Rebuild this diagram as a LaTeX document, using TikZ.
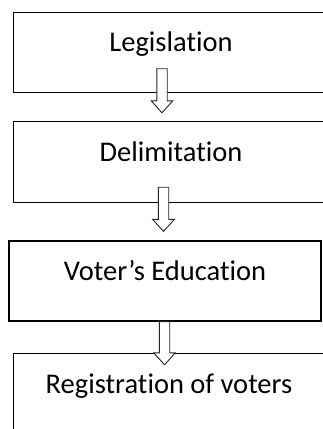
\documentclass[tikz,border=0pt]{standalone}
\usepackage{fontspec}
\setmainfont{Carlito}[Ligatures=NoCommon]
\usepackage{tikz}
\usetikzlibrary{calc, positioning}
\tikzset{
    stageBox/.style={rectangle, inner sep=0pt, minimum width=#1, text height=39pt, text depth=41pt, font=\fontsize{28.5}{34}\selectfont},
    stageBox/.default=314pt,
    stageLine/.style={line width=1.2pt},
    blockArrow/.style={draw=black!85, line width=0.9pt, fill=white, line join=miter},
}
\newcommand{\drawOpenBox}[1]{
    % box whose right side runs past the page
    \draw[stageLine] ($(#1.north east)+(40,0)$) -| (#1.south west) -- ++(360,0);
}
\newcommand{\drawBlockArrow}[2]{
    % #1 top of shaft, #2 tip
    \coordinate (bs) at (#1);
    \coordinate (bt) at (#2);
    \draw[blockArrow] ($(bs)+(-5.2,0)$) -- ($(bt)+(-5.2,-12)$) -- ($(bt)+(-10.8,-12)$) -- (bt)
        -- ($(bt)+(10.8,-12)$) -- ($(bt)+(5.2,-12)$) -- ($(bs)+(5.2,0)$) -- cycle;
}

\begin{document}
\begin{tikzpicture}[x=1pt, y=-1pt]

        \useasboundingbox (0,0) rectangle (323,429);
        \clip (0,0) rectangle (323,429);
        \fill[white] (0,0) rectangle (323,429);

        \node[stageBox] (Leg) at (171, 52.5) {Legislation};
        \node[stageBox] (Del) at (171, 162) {Delimitation};
        \node[stageBox=312pt, draw, stageLine] (Vot) at (165, 281) {Voter’s Education};
        \node[stageBox=310pt] (Reg) at (169, 394) {Registration of voters};

        \drawOpenBox{Leg}
        \drawOpenBox{Del}
        \drawOpenBox{Reg}

        \drawBlockArrow{$(Leg.south)+(-9,-24)$}{$(Del.north)+(-9,-9)$}
        \drawBlockArrow{$(Del.south)+(-7.5,-15)$}{$(Vot.north)+(-1.5,-9)$}
        \drawBlockArrow{$(Vot.south)+(-0.5,0)$}{$(Reg.north)+(-4.5,11)$}

    \end{tikzpicture}
\end{document}
